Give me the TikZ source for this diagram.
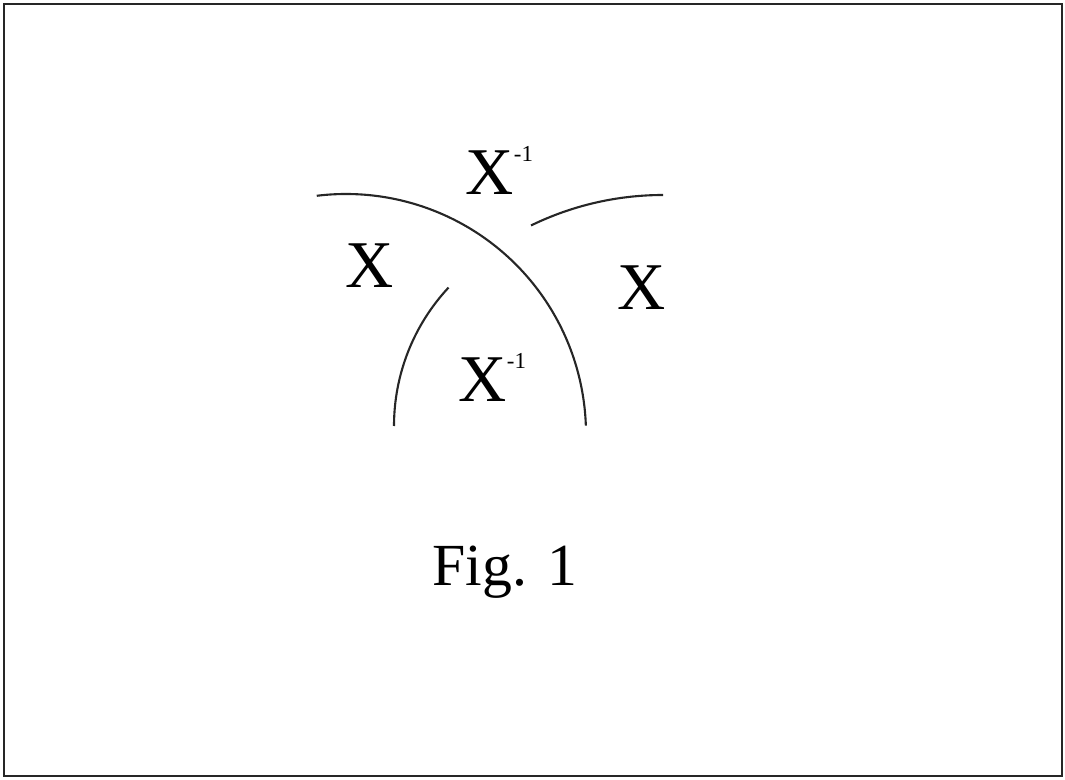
\documentclass[tikz,border=0pt]{standalone}
\usepackage{fontspec}
\setmainfont{Liberation Serif}
\usepackage{tikz}
\usetikzlibrary{positioning}

\newcommand{\invsup}{\raisebox{9.5pt}{\fontsize{6.5}{6.5}\selectfont -1}}

\begin{document}
\begin{tikzpicture}[
  lbl/.style={inner sep=0pt, anchor=base west, font=\fontsize{19}{19}\selectfont},
  caption/.style={inner sep=0pt, anchor=base west, font=\fontsize{17}{17}\selectfont},
  arcline/.style={line width=0.6pt, draw=black!85},
  frameline/.style={line width=0.7pt, draw=black!85}
]
\useasboundingbox (0,0) rectangle (10.65,7.79);
% Frame
\draw[frameline] (0.04,0.03) rectangle (10.62,7.75);
% Arcs
\draw[arcline] (3.46,3.45) ++(97:2.40) arc[start angle=97, end angle=2, radius=2.40];
\draw[arcline] (5.97,3.53) ++(137:2.03) arc[start angle=137, end angle=180, radius=2.03];
\draw[arcline] (6.63,2.83) ++(116:3.01) arc[start angle=116, end angle=90, radius=3.01];
% Labels
\node[lbl] (topinv)   at (4.65,5.84) {X\invsup};
\node[lbl] (leftx)    at (3.45,4.91) {X};
\node[lbl] (rightx)   at (6.17,4.69) {X};
\node[lbl] (lowinv)   at (4.58,3.77) {X\invsup};
\node[caption] (fig)  at (4.32,1.94) {Fig. 1};
\end{tikzpicture}
\end{document}
